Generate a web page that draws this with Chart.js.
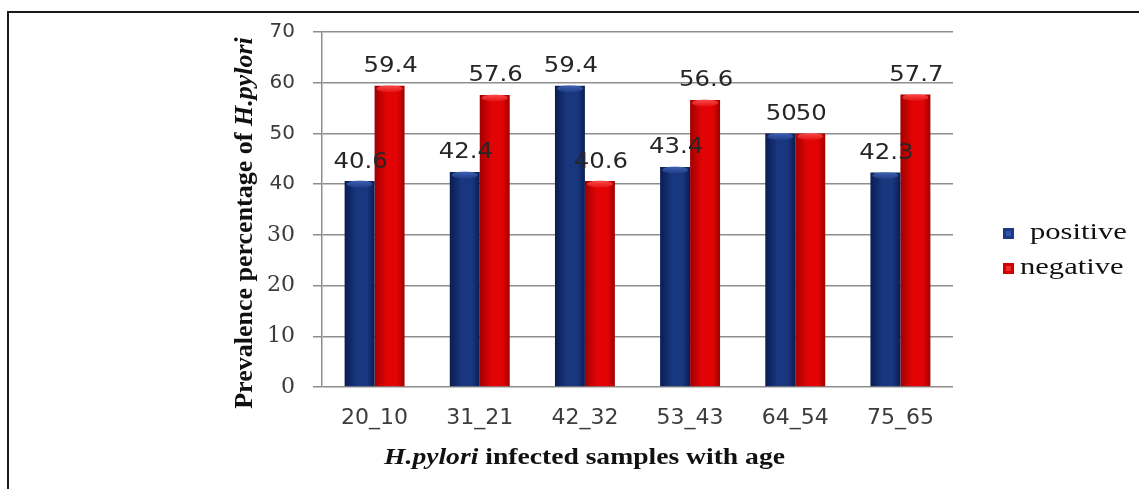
<!DOCTYPE html>
<html>
<head>
<meta charset="utf-8">
<script src="https://cdn.jsdelivr.net/npm/chart.js@4"></script>
<style>
    html, body { margin: 0; padding: 0; background: #fff; }
    #wrap { position: relative; width: 1139px; height: 489px; overflow: hidden; }
    #frame {
        position: absolute; left: 7px; top: 11px; width: 1140px; height: 480px;
        border-left: 2px solid #1a1a1a; border-top: 2px solid #1a1a1a;
    }
    canvas { position: absolute; left: 0; top: 0; }
</style>
</head>
<body>
<div id="wrap">
    <div id="frame"></div>
    <canvas id="chart" width="1139" height="489"></canvas>
</div>
<script>
// age groups and prevalence values
const ageGroups = ['20_10', '31_21', '42_32', '53_43', '64_54', '75_65'];
const positive = [40.6, 42.4, 59.4, 43.4, 50, 42.3];
const negative = [59.4, 57.6, 40.6, 56.6, 50, 57.7];
const yTicks = [0, 10, 20, 30, 40, 50, 60, 70];

const SANS = '"DejaVu Sans", sans-serif';
const SERIF = '"Liberation Serif", "Times New Roman", serif';
const CAT_PCT = 0.57;

const palette = {
    positive: { edge: '#0a1c52', mid: '#18377f', cap: '#4b6dc2', key: '#1d3a86' },
    negative: { edge: '#a00000', mid: '#e20404', cap: '#ff6060', key: '#d40000' }
};

/**
 * Horizontal shading per column, worked out from the x scale
 */
function columnFill(c) {
    const chart = c.chart;
    const p = palette[c.dataset.key];
    const xs = chart.scales.x;
    if (!xs || c.dataIndex === undefined || !chart.chartArea) return p.mid;
    const nSets = chart.data.datasets.length;
    const catW = xs.width / chart.data.labels.length;
    const barW = catW * CAT_PCT / nSets;
    const centre = xs.getPixelForValue(c.dataIndex) + (c.datasetIndex - (nSets - 1) / 2) * barW;
    const g = chart.ctx.createLinearGradient(centre - barW / 2, 0, centre + barW / 2, 0);
    g.addColorStop(0, p.edge);
    g.addColorStop(0.4, p.mid);
    g.addColorStop(0.75, p.mid);
    g.addColorStop(1, p.edge);
    return g;
}

// little lighter cap on top of each column
const columnCaps = {
    id: 'columnCaps',
    afterDatasetsDraw(chart) {
        const ctx = chart.ctx;
        chart.data.datasets.forEach((ds, i) => {
            const p = palette[ds.key];
            chart.getDatasetMeta(i).data.forEach(el => {
                const { x, y, width } = el.getProps(['x', 'y', 'width'], true);
                ctx.save();
                const g = ctx.createLinearGradient(0, y, 0, y + 8);
                g.addColorStop(0, p.cap);
                g.addColorStop(1, p.mid);
                ctx.fillStyle = g;
                ctx.globalAlpha = 0.75;
                ctx.beginPath();
                ctx.ellipse(x, y + 3, width / 2 - 2, 3.5, 0, 0, Math.PI * 2);
                ctx.fill();
                ctx.restore();
            });
        });
    }
};

/**
 * Value labels, axis titles (mixed bold / bold italic) and legend
 */
const annotate = {
    id: 'annotate',
    afterDraw(chart) {
        const ctx = chart.ctx;
        const area = chart.chartArea;

        // value labels above each column (source picture is a bit stretched sideways)
        ctx.save();
        ctx.font = '21px ' + SANS;
        ctx.fillStyle = '#262626';
        ctx.textAlign = 'center';
        ctx.textBaseline = 'middle';
        chart.data.datasets.forEach((ds, i) => {
            chart.getDatasetMeta(i).data.forEach((el, j) => {
                const { x, y } = el.getProps(['x', 'y'], true);
                ctx.save();
                ctx.translate(x + 1, y - 19);
                ctx.scale(1.16, 1);
                ctx.fillText(String(ds.data[j]), 0, 0);
                ctx.restore();
            });
        });
        ctx.restore();

        // mixed-style title helper
        const drawParts = (parts, cx, cy, rotate, sx) => {
            ctx.save();
            ctx.translate(cx, cy);
            if (rotate) ctx.rotate(-Math.PI / 2);
            ctx.scale(sx || 1, 1);
            ctx.textBaseline = 'middle';
            ctx.fillStyle = '#111';
            let total = 0;
            parts.forEach(pt => { ctx.font = pt.font; pt.w = ctx.measureText(pt.text).width; total += pt.w; });
            let x = -total / 2;
            parts.forEach(pt => { ctx.font = pt.font; ctx.fillText(pt.text, x, 0); x += pt.w; });
            ctx.restore();
        };

        drawParts([
            { text: 'Prevalence percentage of ', font: 'bold 26px ' + SERIF },
            { text: 'H.pylori', font: 'italic bold 26px ' + SERIF }
        ], 245, 223, true);

        drawParts([
            { text: 'H.pylori', font: 'italic bold 24px ' + SERIF },
            { text: ' infected samples with age', font: 'bold 24px ' + SERIF }
        ], (area.left + area.right) / 2 - 53, 458, false, 1.15);

        // legend
        ctx.save();
        ctx.textBaseline = 'middle';
        ctx.font = '23px ' + SERIF;
        const legendRows = [{ y: 233, textX: 1030 }, { y: 268, textX: 1020 }];
        chart.data.datasets.forEach((ds, i) => {
            const row = legendRows[i];
            const p = palette[ds.key];
            ctx.fillStyle = p.key;
            ctx.fillRect(1003, row.y - 5, 11, 11);
            ctx.fillStyle = p.cap;
            ctx.globalAlpha = 0.5;
            ctx.fillRect(1006, row.y - 2, 5, 5);
            ctx.globalAlpha = 1;
            ctx.fillStyle = '#111';
            ctx.save();
            ctx.translate(row.textX, row.y);
            ctx.scale(1.33, 1);
            ctx.fillText(ds.label, 0, 0);
            ctx.restore();
        });
        ctx.restore();
    }
};

new Chart(document.getElementById('chart'), {
    type: 'bar',
    data: {
        labels: ageGroups,
        datasets: [
            { label: 'positive', key: 'positive', data: positive, backgroundColor: columnFill },
            { label: 'negative', key: 'negative', data: negative, backgroundColor: columnFill }
        ]
    },
    options: {
        responsive: false,
        animation: false,
        events: [],
        categoryPercentage: CAT_PCT,
        barPercentage: 1.0,
        layout: {
            padding: { left: 0, top: 32, right: 186, bottom: 0 }
        },
        plugins: {
            legend: { display: false },
            tooltip: { enabled: false }
        },
        scales: {
            x: {
                grid: { display: false, drawTicks: false },
                border: { display: false },
                ticks: {
                    color: '#3c3c3c',
                    font: { family: SANS, size: 22 },
                    padding: 18
                },
                afterFit(scale) { scale.height = 102; }
            },
            y: {
                min: 0,
                max: 70,
                afterBuildTicks(scale) { scale.ticks = yTicks.map(v => ({ value: v })); },
                grid: { color: '#8e8e8e', lineWidth: 1.5, tickLength: 9 },
                border: { color: '#8e8e8e', width: 1.5 },
                ticks: {
                    color: '#3c3c3c',
                    padding: 18,
                    font: (c) => (c.tick && c.tick.value >= 40)
                        ? { family: SANS, size: 20 }
                        : { family: '"DejaVu Serif", serif', size: 22 }
                },
                afterFit(scale) { scale.width = 322; }
            }
        }
    },
    plugins: [columnCaps, annotate]
});
</script>
</body>
</html>
